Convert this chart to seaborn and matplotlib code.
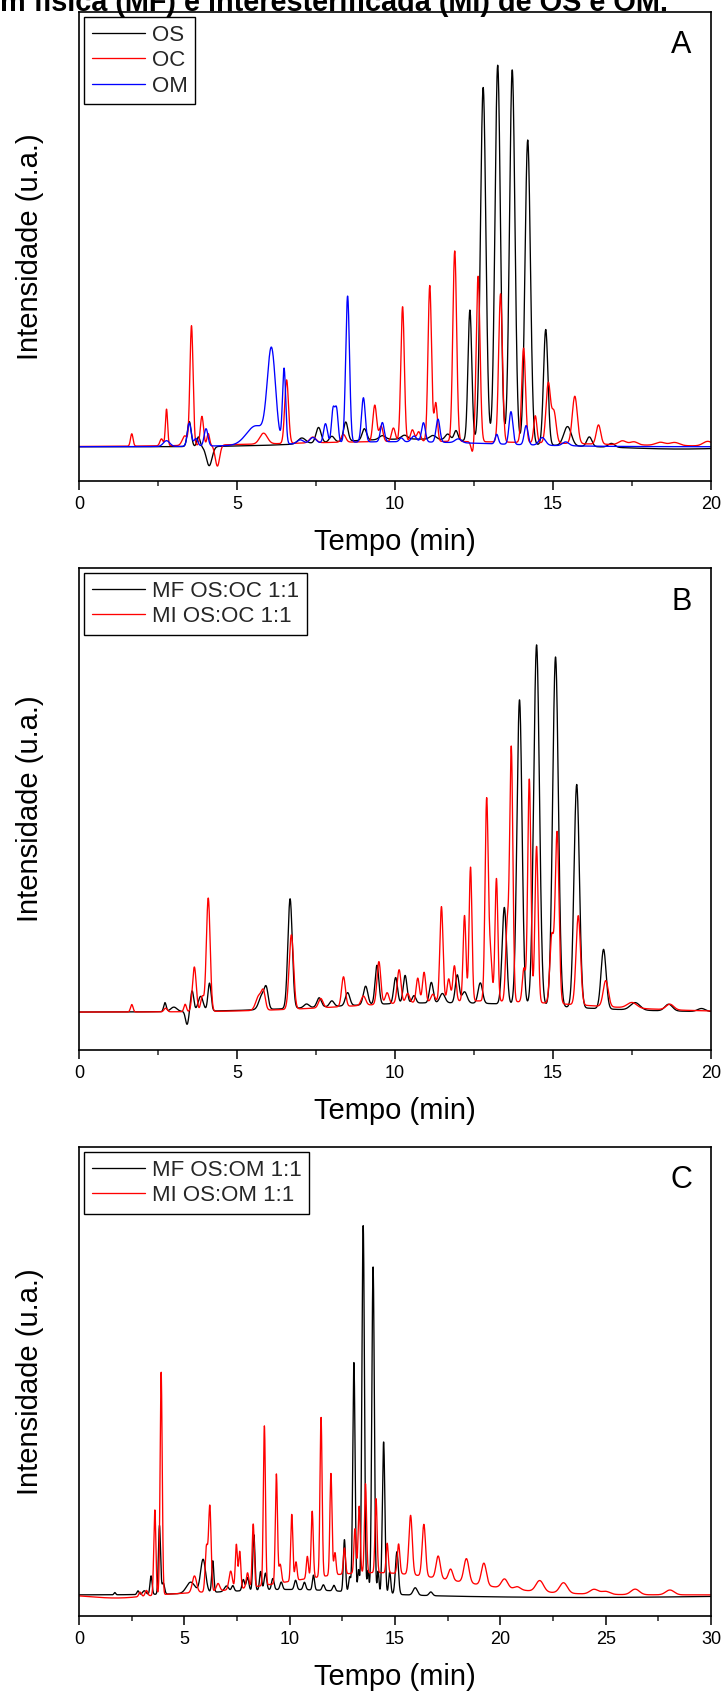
import numpy as np
import pandas as pd
import matplotlib
matplotlib.use("Agg")
import matplotlib.pyplot as plt
from matplotlib.lines import Line2D
from matplotlib.ticker import MultipleLocator
import seaborn as sns

# ---------------- data: peak tables ----------------
# each entry: (retention time [min], height [a.u., tallest = 100], width sigma [min])
# Panel A
A_OS = [(3.49, 6.5, 0.06), (3.78, 2.5, 0.05), (4.12, -5.0, 0.09), (7.05, 1.5, 0.12),
        (7.58, 4.0, 0.08), (8.0, 1.5, 0.08), (8.44, 5.0, 0.07), (9.03, 3.0, 0.07),
        (9.6, 1.0, 0.1), (10.3, 1.0, 0.1), (11.2, 1.0, 0.1), (11.67, 1.5, 0.08),
        (11.93, 2.5, 0.06), (12.37, 34.0, 0.06), (12.79, 92.0, 0.085), (13.25, 98.0, 0.085),
        (13.71, 97.0, 0.085), (14.20, 79.0, 0.085), (14.77, 30.0, 0.07), (15.46, 5.0, 0.12),
        (16.15, 2.5, 0.08), (16.85, 1.0, 0.1), (10.5, 2.0, 2.5), (19.0, -0.6, 1.5)]
A_OC = [(1.67, 3.2, 0.04), (2.61, 1.8, 0.05), (2.77, 9.5, 0.035), (3.35, 2.5, 0.08),
        (3.56, 31.0, 0.05), (3.89, 7.5, 0.05), (4.09, 3.0, 0.04), (4.38, -5.5, 0.07),
        (5.84, 2.8, 0.12), (6.57, 16.5, 0.06), (7.4, 1.5, 0.1), (8.37, 2.0, 0.07),
        (9.36, 9.5, 0.06), (9.56, 4.0, 0.06), (9.95, 3.5, 0.06), (10.24, 35.0, 0.055),
        (10.55, 3.0, 0.06), (10.75, 2.5, 0.06), (11.10, 40.5, 0.055), (11.29, 10.0, 0.05),
        (11.89, 49.5, 0.06), (12.46, -3.0, 0.05), (12.63, 43.0, 0.06), (13.34, 38.5, 0.06),
        (14.07, 24.5, 0.06), (14.44, 7.0, 0.05), (14.85, 15.5, 0.07), (15.03, 8.0, 0.07),
        (15.69, 12.3, 0.08), (16.44, 5.0, 0.07), (17.2, 1.0, 0.12), (17.56, 0.8, 0.12),
        (18.4, 0.8, 0.15), (18.85, 0.8, 0.15), (19.9, 1.2, 0.15), (11.0, 1.4, 4.5)]
A_OM = [(2.77, 1.5, 0.1), (3.49, 6.0, 0.06), (3.7, 2.0, 0.06), (4.02, 4.5, 0.06),
        (5.6, 5.0, 0.3), (6.09, 24.0, 0.13), (6.49, 19.5, 0.05), (7.0, 1.0, 0.1),
        (7.4, 1.5, 0.1), (7.8, 5.0, 0.06), (8.04, 8.5, 0.05), (8.15, 8.5, 0.05),
        (8.5, 38.0, 0.06), (9.0, 11.5, 0.06), (9.6, 5.0, 0.06), (10.2, 1.0, 0.06),
        (10.6, 1.5, 0.08), (10.9, 5.0, 0.06), (11.36, 6.0, 0.06), (12.0, 1.0, 0.1),
        (13.22, 2.5, 0.05), (13.67, 8.5, 0.06), (14.15, 5.0, 0.06), (14.66, 2.0, 0.1),
        (15.4, 1.0, 0.1), (10.0, 1.3, 3.0)]
# Panel B
B_MF = [(2.72, 2.4, 0.04), (3.0, 1.2, 0.1), (3.42, -3.5, 0.05), (3.58, 5.5, 0.05),
        (3.85, 4.0, 0.08), (4.13, 7.5, 0.05), (5.8, 4.0, 0.1), (5.93, 4.5, 0.06),
        (6.68, 29.5, 0.07), (7.2, 1.0, 0.08), (7.6, 2.5, 0.07), (8.0, 1.5, 0.07),
        (8.5, 3.5, 0.07), (9.07, 5.0, 0.07), (9.43, 10.5, 0.06), (10.02, 7.0, 0.06),
        (10.32, 7.5, 0.06), (10.6, 2.0, 0.06), (11.15, 5.5, 0.06), (11.5, 2.5, 0.08),
        (11.97, 7.5, 0.06), (12.2, 3.0, 0.08), (12.7, 5.5, 0.07), (13.46, 26.0, 0.07),
        (13.94, 82.0, 0.08), (14.48, 97.0, 0.09), (15.08, 94.0, 0.09), (15.75, 60.0, 0.085),
        (16.6, 16.0, 0.08), (17.6, 2.0, 0.15), (18.66, 1.8, 0.12), (19.7, 0.8, 0.12),
        (11.5, 2.5, 3.5)]
B_MI = [(1.67, 2.0, 0.04), (2.74, 1.0, 0.05), (3.36, 2.0, 0.04), (3.65, 12.0, 0.06),
        (3.9, 4.0, 0.05), (4.09, 30.5, 0.06), (5.7, 4.0, 0.1), (5.84, 4.0, 0.06),
        (6.72, 20.0, 0.07), (7.65, 2.5, 0.07), (8.37, 8.0, 0.06), (9.0, 2.5, 0.07),
        (9.49, 11.5, 0.06), (9.75, 3.0, 0.06), (10.13, 9.0, 0.06), (10.4, 2.5, 0.06),
        (10.72, 6.5, 0.05), (10.92, 8.0, 0.05), (11.2, 2.0, 0.06), (11.47, 25.5, 0.05),
        (11.7, 6.0, 0.05), (11.88, 9.5, 0.05), (12.2, 23.0, 0.045), (12.39, 36.0, 0.045),
        (12.9, 54.0, 0.05), (13.02, 12.0, 0.05), (13.21, 33.0, 0.045), (13.55, 20.0, 0.05),
        (13.68, 68.0, 0.05), (14.08, 9.0, 0.05), (14.25, 60.0, 0.05), (14.48, 42.0, 0.05),
        (14.96, 18.0, 0.06), (15.13, 46.0, 0.06), (15.8, 24.0, 0.07), (16.67, 7.0, 0.08),
        (17.5, 1.5, 0.15), (18.7, 1.5, 0.12), (12.5, 3.0, 3.5)]
# Panel C
C_MF = [(1.7, 0.6, 0.04), (2.8, 1.0, 0.05), (3.1, 1.0, 0.08), (3.42, 5.0, 0.05),
        (3.82, 18.5, 0.05), (4.0, 3.0, 0.06), (5.3, 3.0, 0.2), (5.89, 9.0, 0.12),
        (6.35, 8.5, 0.05), (7.0, 1.5, 0.1), (7.3, 1.5, 0.06), (7.8, 3.0, 0.06),
        (8.0, 3.5, 0.06), (8.3, 15.0, 0.05), (8.62, 5.0, 0.05), (8.85, 4.5, 0.06),
        (9.2, 3.0, 0.06), (9.6, 2.0, 0.06), (10.28, 2.5, 0.06), (10.7, 2.0, 0.06),
        (11.13, 4.0, 0.05), (11.6, 1.5, 0.06), (12.1, 1.5, 0.06), (12.6, 14.0, 0.05),
        (12.85, 4.0, 0.05), (13.05, 62.0, 0.055), (13.27, 6.0, 0.04), (13.49, 99.0, 0.06),
        (13.72, 6.0, 0.04), (13.96, 88.0, 0.06), (14.2, 6.0, 0.04), (14.46, 41.0, 0.06),
        (14.75, 6.0, 0.05), (15.09, 11.5, 0.07), (15.96, 2.0, 0.1), (16.7, 1.0, 0.08),
        (10.0, 1.5, 3.0), (24.0, -0.7, 6.0)]
C_MI = [(1.8, -0.9, 1.2), (2.9, 1.2, 0.06), (3.2, 1.5, 0.06), (3.6, 23.0, 0.05),
        (3.9, 60.0, 0.05), (5.48, 4.5, 0.1), (6.05, 12.0, 0.06), (6.21, 23.0, 0.06),
        (6.6, 2.0, 0.08), (7.2, 5.0, 0.08), (7.47, 12.0, 0.05), (7.63, 10.0, 0.05),
        (8.0, 4.0, 0.06), (8.27, 17.0, 0.05), (8.8, 43.0, 0.05), (9.37, 29.5, 0.05),
        (9.55, 5.0, 0.06), (10.1, 18.0, 0.05), (10.3, 5.0, 0.05), (10.84, 6.0, 0.05),
        (11.07, 18.0, 0.05), (11.49, 43.0, 0.05), (11.96, 27.5, 0.05), (12.15, 6.0, 0.05),
        (12.6, 7.0, 0.05), (13.1, 12.0, 0.05), (13.3, 18.0, 0.05), (13.6, 24.0, 0.05),
        (14.1, 20.0, 0.05), (14.63, 8.0, 0.05), (15.17, 8.0, 0.06), (15.74, 16.0, 0.08),
        (16.37, 14.0, 0.08), (17.05, 6.0, 0.1), (17.64, 3.0, 0.1), (18.39, 6.5, 0.12),
        (19.22, 6.0, 0.12), (20.2, 2.5, 0.15), (20.8, 0.8, 0.15), (21.87, 3.0, 0.18),
        (23.0, 2.8, 0.18), (24.45, 1.3, 0.2), (25.0, 0.8, 0.2), (26.4, 1.5, 0.2),
        (28.05, 1.3, 0.2), (14.0, 6.0, 4.0)]

names_A = ["OS", "OC", "OM"]
names_B = ["MF OS:OC 1:1", "MI OS:OC 1:1"]
names_C = ["MF OS:OM 1:1", "MI OS:OM 1:1"]
colors_A = ["#000000", "#FF0000", "#0000FF"]
colors_BC = ["#000000", "#FF0000"]
xmax_panels = [20, 20, 30]
xticks_A = [0, 5, 10, 15, 20]
xticks_C = [0, 5, 10, 15, 20, 25, 30]
letters = ["A", "B", "C"]
title_text = "m física (MF) e interesterificada (MI) de OS e OM."
xlabel = "Tempo (min)"
ylabel = "Intensidade (u.a.)"


def trace(t, peaks):
    y = np.zeros_like(t)
    for rt, h, w in peaks:
        y += h * np.exp(-0.5 * ((t - rt) / w) ** 2)
    return y


def frame(xmax, series, names):
    t = np.linspace(0, xmax, 4000)
    parts = [pd.DataFrame({"t": t, "I": trace(t, p), "amostra": n})
             for p, n in zip(series, names)]
    return pd.concat(parts, ignore_index=True)


# ---------------- figure ----------------
sns.set_theme(style="white")
plt.rcParams["font.family"] = ["Liberation Sans", "DejaVu Sans"]
W, H = 726, 1695
fig = plt.figure(figsize=(W / 100, H / 100), dpi=100)

# axes boxes in pixels: (left, top, right, bottom)
boxes = [(79, 12, 711, 481), (79, 568, 711, 1050), (79, 1147, 711, 1616)]
ylims = [(-8.9, 112.9), (-10.2, 119.4), (-5.7, 120.8)]
panels = [
    (frame(20, [A_OS, A_OC, A_OM], names_A), names_A, colors_A),
    (frame(20, [B_MF, B_MI], names_B), names_B, colors_BC),
    (frame(30, [C_MF, C_MI], names_C), names_C, colors_BC),
]

for i, ((df, names, cols), box) in enumerate(zip(panels, boxes)):
    l, t_, r, b = box
    ax = fig.add_axes([l / W, 1 - b / H, (r - l) / W, (b - t_) / H])
    sns.lineplot(data=df, x="t", y="I", hue="amostra", hue_order=names,
                 palette=dict(zip(names, cols)), estimator=None, sort=False,
                 legend=False, lw=0.95, ax=ax)
    xmax = xmax_panels[i]
    ax.set_xlim(0, xmax)
    ax.set_ylim(*ylims[i])
    ax.set_xticks(xticks_C if xmax == 30 else xticks_A)
    ax.xaxis.set_minor_locator(MultipleLocator(2.5))
    ax.set_yticks([])
    ax.tick_params(axis="x", which="major", direction="out", length=6.5, width=1.1,
                   labelsize=13, pad=4.5, colors="black", bottom=True)
    ax.tick_params(axis="x", which="minor", direction="out", length=3.5, width=1.1,
                   bottom=True)
    for s in ax.spines.values():
        s.set_visible(True)
        s.set_color("black")
        s.set_linewidth(1.2)
    ax.set_xlabel(xlabel, fontsize=21, color="black")
    ax.set_ylabel(ylabel, fontsize=21, color="black")
    hpx = b - t_
    ax.xaxis.set_label_coords(0.5, -47 / hpx)
    ax.yaxis.set_label_coords(-35 / 632, 0.5)
    handles = [Line2D([], [], color=c, lw=0.95) for c in cols]
    leg = ax.legend(handles, names, loc="upper left",
                    bbox_to_anchor=(5 / 632, 1 - 5 / hpx), borderaxespad=0,
                    fontsize=16, handlelength=2.4, handletextpad=0.3,
                    labelspacing=0.2, borderpad=0.35, fancybox=False,
                    edgecolor="black", framealpha=1)
    leg.get_frame().set_linewidth(1.0)
    ax.text(0.953, 0.93, letters[i], transform=ax.transAxes, ha="center",
            va="center", fontsize=22, color="black")

fig.text(0.0, 1 - 11 / H, title_text, ha="left", va="baseline",
         fontsize=20.8, fontweight="bold", color="black")

fig.savefig("out.png", dpi=100)
